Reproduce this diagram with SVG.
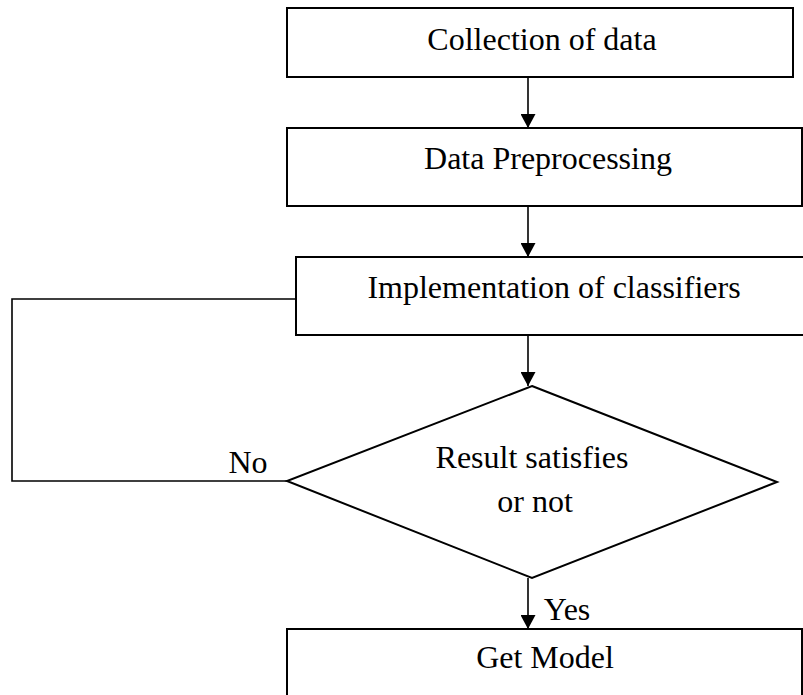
<svg xmlns="http://www.w3.org/2000/svg" width="803" height="695" viewBox="0 0 803 695">
<style>
.box{fill:#fff;stroke:#000;stroke-width:2}
.lbl{font-family:"Liberation Serif","Times New Roman",serif;font-size:32px;fill:#000;text-anchor:middle}
.edge{fill:none;stroke:#000;stroke-width:1.6}
</style>
<defs>
<marker id="arr" viewBox="0 0 14 15" refX="14" refY="7.5" markerWidth="14" markerHeight="15" markerUnits="userSpaceOnUse" orient="auto">
<path d="M0,0 L14,7.5 L0,15 Z" fill="#000"/>
</marker>
</defs>
<rect width="803" height="695" fill="#fff"/>
<g id="connectors">
<line class="edge" x1="528" y1="77" x2="528" y2="128" marker-end="url(#arr)"/>
<line class="edge" x1="528" y1="206" x2="528" y2="257" marker-end="url(#arr)"/>
<line class="edge" x1="528" y1="335" x2="528" y2="386" marker-end="url(#arr)"/>
<line class="edge" x1="528" y1="578" x2="528" y2="629" marker-end="url(#arr)"/>
<polyline class="edge" points="296,299 12,299 12,481 287,481"/>
<text class="lbl" x="248" y="473">No</text>
<text class="lbl" x="567" y="620">Yes</text>
</g>
<g id="n1">
<rect class="box" x="287" y="8" width="506" height="69"/>
<text class="lbl" x="542" y="50">Collection of data</text>
</g>
<g id="n2">
<rect class="box" x="287" y="128" width="515" height="78"/>
<text class="lbl" x="548" y="169">Data Preprocessing</text>
</g>
<g id="n3">
<rect class="box" x="296" y="257" width="520" height="78"/>
<text class="lbl" x="554" y="298">Implementation of classifiers</text>
</g>
<g id="n4">
<polygon class="box" points="532,386 777,482 532,578 287,481"/>
<text class="lbl" x="532" y="468">Result satisfies</text>
<text class="lbl" x="535" y="512">or not</text>
</g>
<g id="n5">
<rect class="box" x="287" y="629" width="515" height="80"/>
<text class="lbl" x="545" y="668">Get Model</text>
</g>
</svg>
